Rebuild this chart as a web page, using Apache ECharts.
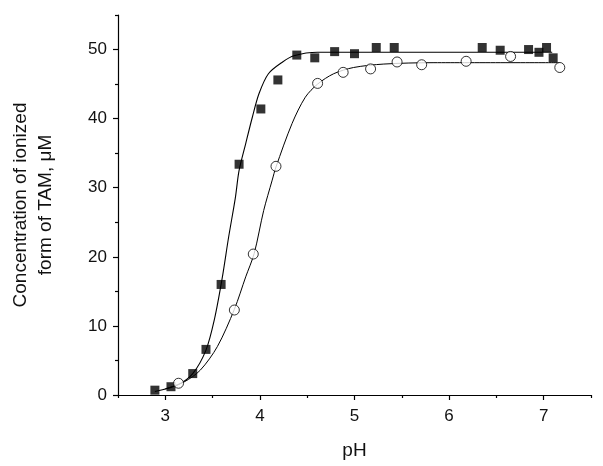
<!DOCTYPE html>
<html>
<head>
<meta charset="utf-8">
<script src="https://cdn.jsdelivr.net/npm/echarts@6/dist/echarts.min.js"></script>
<style>html,body{margin:0;padding:0;background:#fff}#c{width:603px;height:466px}</style>
</head>
<body>
<div id="c"></div>
<script>
// Measured points: filled squares
const squarePH = [2.89, 3.06, 3.29, 3.43, 3.59, 3.78, 4.01, 4.19, 4.39, 4.58, 4.79, 5.00, 5.23, 5.42, 6.35, 6.54, 6.84, 6.95, 7.03, 7.10];
const squareC  = [0.7, 1.2, 3.1, 6.6, 16.0, 33.4, 41.4, 45.6, 49.2, 48.8, 49.7, 49.4, 50.3, 50.3, 50.3, 49.9, 50.0, 49.6, 50.3, 48.8];
// Measured points: open circles
const circlePH = [3.14, 3.73, 3.93, 4.17, 4.61, 4.88, 5.17, 5.45, 5.71, 6.18, 6.65, 7.17];
const circleC  = [1.7, 12.3, 20.4, 33.1, 45.1, 46.7, 47.2, 48.2, 47.8, 48.3, 49.0, 47.4];
// Fitted curves
const squareFitPH = [2.89, 3.13, 3.29, 3.43, 3.52, 3.60, 3.67, 3.74, 3.78, 3.85, 3.92, 3.99, 4.09, 4.24, 4.36, 4.61, 5.20, 7.09];
const squareFitC  = [0.5, 1.45, 3.1, 6.5, 11.0, 16.8, 22.9, 28.5, 32.5, 36.4, 40.2, 43.6, 46.5, 48.2, 49.1, 49.6, 49.6, 49.6];
const circleFitPH = [3.00, 3.20, 3.37, 3.55, 3.73, 3.85, 3.94, 4.04, 4.13, 4.17, 4.34, 4.48, 4.61, 4.78, 4.99, 5.31, 5.84, 7.17];
const circleFitC  = [0.9, 1.9, 3.6, 7.0, 12.4, 17.1, 20.5, 26.7, 31.1, 33.0, 39.3, 43.1, 45.0, 46.5, 47.4, 47.9, 48.1, 48.1];
// Axis ticks
const xMajor = [3, 4, 5, 6, 7];
const xMinor = [2.5, 3.5, 4.5, 5.5, 6.5, 7.5];
const yMajor = [0, 10, 20, 30, 40, 50];
const yMinor = [5, 15, 25, 35, 45, 55];

const zip = (a, b) => a.map((v, i) => [v, b[i]]);
const FONT = '"Liberation Sans", Arial, sans-serif';
const chart = echarts.init(document.getElementById('c'), null, {renderer: 'canvas'});
const axisBase = {
  type: 'value', splitLine: {show: false},
  axisLine: {show: true, lineStyle: {color: '#000', width: 1.2}}
};
chart.setOption({
  animation: false,
  backgroundColor: '#fff',
  grid: {left: 117, right: 12, top: 15, bottom: 71},
  xAxis: [
    Object.assign({}, axisBase, {
      min: 2.5, max: 7.5,
      name: 'pH', nameLocation: 'middle', nameGap: 46,
      nameTextStyle: {fontFamily: FONT, fontSize: 19, color: '#111'},
      axisTick: {show: true, inside: false, length: 5, customValues: xMajor, lineStyle: {color: '#000', width: 1.2}},
      axisLabel: {show: true, customValues: xMajor, margin: 13, fontFamily: FONT, fontSize: 17, color: '#111'}
    }),
    Object.assign({}, axisBase, {
      min: 2.5, max: 7.5, position: 'bottom',
      axisLine: {show: false},
      axisTick: {show: true, length: 3, customValues: xMinor, lineStyle: {color: '#000', width: 1.2}},
      axisLabel: {show: false}
    })
  ],
  yAxis: [
    Object.assign({}, axisBase, {
      min: 0, max: 55,
      name: 'Concentration of ionized\nform of TAM, \u03bcM', nameLocation: 'middle', nameGap: 60, nameRotate: 90,
      nameTextStyle: {fontFamily: FONT, fontSize: 19, color: '#111', lineHeight: 25},
      axisTick: {show: true, length: 5, customValues: yMajor, lineStyle: {color: '#000', width: 1.2}},
      axisLabel: {show: true, customValues: yMajor, margin: 11, fontFamily: FONT, fontSize: 17, color: '#111'}
    }),
    Object.assign({}, axisBase, {
      min: 0, max: 55, position: 'left',
      axisLine: {show: false},
      axisTick: {show: true, length: 3, customValues: yMinor, lineStyle: {color: '#000', width: 1.2}},
      axisLabel: {show: false}
    })
  ],
  series: [
    {type: 'line', data: zip(squareFitPH, squareFitC), smooth: 0.3, showSymbol: false, symbol: 'none',
     lineStyle: {color: '#000', width: 1.1}, z: 2},
    {type: 'line', data: zip(circleFitPH, circleFitC), smooth: 0.3, showSymbol: false, symbol: 'none',
     lineStyle: {color: '#000', width: 1}, z: 2},
    {type: 'scatter', data: zip(squarePH, squareC), symbol: 'rect', symbolSize: 9,
     itemStyle: {color: '#000'}, z: 3},
    {type: 'scatter', data: zip(circlePH, circleC), symbol: 'circle', symbolSize: 10,
     itemStyle: {color: '#fff', borderColor: '#000', borderWidth: 1}, z: 4}
  ]
});
</script>
</body>
</html>
